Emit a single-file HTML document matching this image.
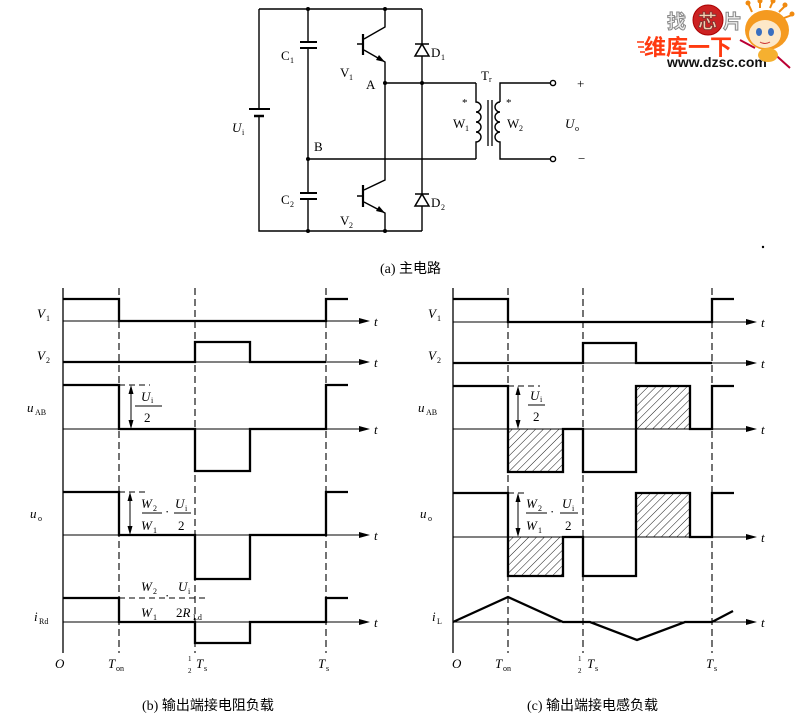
<!DOCTYPE html>
<html><head><meta charset="utf-8"><style>
html,body{margin:0;padding:0;background:#fff;}
svg{display:block;}
.s{font-family:"Liberation Serif","Noto Serif CJK SC",serif;fill:#000;}
.i{font-style:italic;}
.c{font-family:"Liberation Serif","Noto Sans CJK SC",sans-serif;fill:#000;font-size:14px;}
</style></head><body>
<svg width="800" height="717" viewBox="0 0 800 717" xmlns="http://www.w3.org/2000/svg">
<defs>
<pattern id="h" width="5.5" height="5.5" patternUnits="userSpaceOnUse" patternTransform="rotate(45)">
<line x1="0" y1="0" x2="0" y2="5.5" stroke="#000" stroke-width="0.9"/></pattern>
</defs>
<rect width="800" height="717" fill="#fff"/>

<!-- ============ CIRCUIT ============ -->
<g stroke="#000" stroke-width="1.4" fill="none">
<path d="M259,9 H422 M259,9 V109 M259,116 V231 H422"/>
<path d="M249,109 H270" stroke-width="2"/>
<path d="M254,116 H264" stroke-width="2.5"/>
<path d="M308,9 V42 M308,48 V193 M308,199 V231"/>
<path d="M300,42 H317 M300,48 H317 M300,193 H317 M300,199 H317" stroke-width="2"/>
<path d="M308,159 H476 M385,83 H476"/>
<path d="M385,9 V27 L364,39 M357,44 H363 M364,50 L385,62 V180 L364,190 M357,196 H363 M364,202 L385,213 V231"/>
<path d="M363,34 V55 M363,185 V207" stroke-width="2.2"/>
<path d="M422,9 V231"/>
<path d="M415,44 H429 M415,194 H429" stroke-width="1.6"/>
<path d="M422,44 L415,56 H429 Z M422,194 L415,206 H429 Z" fill="#fff" stroke-width="1.5"/>
<path d="M476,83 V102 a5,5 0 0 1 0,10 a5,5 0 0 1 0,10 a5,5 0 0 1 0,10 a5,5 0 0 1 0,10 V159"/>
<path d="M500,102 a5,5 0 0 0 0,10 a5,5 0 0 0 0,10 a5,5 0 0 0 0,10 a5,5 0 0 0 0,10 V159 H550 M500,102 V83 H550"/>
<path d="M488,100 V146 M492,100 V146" stroke-width="1.3"/>
<circle cx="553" cy="83" r="2.6" fill="#fff"/>
<circle cx="553" cy="159" r="2.6" fill="#fff"/>
</g>
<path d="M385,62 L376,60 L379,55 Z M385,213 L376,211 L379,206 Z" fill="#000"/>
<g fill="#000">
<circle cx="308" cy="9" r="2"/><circle cx="385" cy="9" r="2"/>
<circle cx="308" cy="159" r="2"/><circle cx="308" cy="231" r="2"/>
<circle cx="385" cy="83" r="2"/><circle cx="422" cy="83" r="2"/>
<circle cx="385" cy="231" r="2"/>
</g>
<g class="s" font-size="13">
<text x="232" y="132" class="i">U</text><text x="242" y="135" font-size="8">i</text>
<text x="281" y="60">C</text><text x="290" y="63" font-size="8">1</text>
<text x="281" y="204">C</text><text x="290" y="207" font-size="8">2</text>
<text x="314" y="151">B</text>
<text x="340" y="77">V</text><text x="349" y="80" font-size="8">1</text>
<text x="340" y="225">V</text><text x="349" y="228" font-size="8">2</text>
<text x="366" y="89">A</text>
<text x="431" y="57">D</text><text x="441" y="60" font-size="8">1</text>
<text x="431" y="207">D</text><text x="441" y="210" font-size="8">2</text>
<text x="481" y="80">T</text><text x="489" y="82" font-size="8">r</text>
<text x="462" y="106" font-size="11">*</text><text x="506" y="106" font-size="11">*</text>
<text x="453" y="128">W</text><text x="465" y="131" font-size="8">1</text>
<text x="507" y="128">W</text><text x="519" y="131" font-size="8">2</text>
<text x="565" y="128" class="i">U</text><text x="575" y="131" font-size="8">o</text>
<text x="577" y="88">+</text><text x="578" y="163">−</text>
</g>
<text x="380" y="273" class="c">(a) 主电路</text>
<circle cx="763" cy="247" r="1.2" fill="#000"/>

<!-- ============ WATERMARK ============ -->
<g>
<text x="667" y="28" font-family="'Noto Sans CJK SC',sans-serif" font-weight="bold" font-size="19" fill="#eee" stroke="#888" stroke-width="1">找</text>
<circle cx="708" cy="20" r="15" fill="#c22" stroke="#a00"/>
<text x="698" y="28" font-family="'Noto Sans CJK SC',sans-serif" font-weight="bold" font-size="19" fill="#f5d0b0" stroke="#733" stroke-width="0.8">芯</text>
<text x="723" y="28" font-family="'Noto Sans CJK SC',sans-serif" font-weight="bold" font-size="19" fill="#eee" stroke="#888" stroke-width="1">片</text>
<text x="644" y="55" font-family="'Noto Sans CJK SC',sans-serif" font-weight="bold" font-size="22" fill="#ff3a10">维库一下</text>
<path d="M637,42 H644 M638,47 H644 M640,52 H645" stroke="#ff3a10" stroke-width="1.5"/>
<text x="667" y="67" font-family="'Liberation Sans',sans-serif" font-weight="bold" font-size="14" fill="#111">www.dzsc.com</text>
<g>
<path d="M752,12 L748,3 M760,8 L760,0 M770,8 L773,1 M779,12 L785,6 M784,18 L792,15" stroke="#f08a10" stroke-width="2"/>
<circle cx="748" cy="3" r="2.5" fill="#f08a10"/><circle cx="760" cy="1" r="2.5" fill="#f08a10"/><circle cx="773" cy="1" r="2.5" fill="#f08a10"/><circle cx="785" cy="5" r="2.5" fill="#f08a10"/><circle cx="792" cy="14" r="2.5" fill="#f08a10"/>
<ellipse cx="767" cy="30" rx="22" ry="20" fill="#f59a20"/>
<ellipse cx="765" cy="34" rx="16" ry="14" fill="#fde8c8"/>
<ellipse cx="759" cy="32" rx="3" ry="4" fill="#3a6fc0"/>
<ellipse cx="771" cy="32" rx="3" ry="4" fill="#3a6fc0"/>
<path d="M760,42 Q765,45 770,42" stroke="#c33" fill="none"/>
<path d="M770,50 L790,68 M755,48 L740,40" stroke="#b03" stroke-width="2"/>
<ellipse cx="768" cy="55" rx="10" ry="7" fill="#f5b030"/>
</g>
</g>

<!-- ============ PANEL B (left) ============ -->
<g stroke="#000" fill="none">
<path d="M63,288 V653" stroke-width="1.3"/>
<path d="M119,288 V653 M195,288 V653 M326,288 V653" stroke-width="1.1" stroke-dasharray="7,4"/>
<path d="M63,321 H362 M63,362 H362 M63,429 H362 M63,535 H362 M63,622 H362" stroke-width="1.1"/>
<g stroke-width="2.3">
<path d="M63,299 H119 V321 H326 V299 H348"/>
<path d="M63,362 H195 V342 H250 V362 H326"/>
<path d="M63,385 H119 V429 H195 V471 H250 V429 H326 V385 H348"/>
<path d="M63,492 H119 V535 H195 V579 H250 V535 H326 V492 H348"/>
<path d="M63,598 H119 V622 H195 V643 H250 V622 H326 V598 H348"/>
</g>
<path d="M119,385 H150 M119,492 H146 M119,598 H205" stroke-width="1" stroke-dasharray="6,4"/>
<path d="M131,389 V425 M130,496 V531" stroke-width="1"/>
<path d="M135,406 H162 M142,513 H162 M174,513 H191" stroke-width="1"/>
</g>
<g fill="#000">
<path d="M370,321 L359,318 L359,324 Z M370,362 L359,359 L359,365 Z M370,429 L359,426 L359,432 Z M370,535 L359,532 L359,538 Z M370,622 L359,619 L359,625 Z"/>
<path d="M131,385 L128.5,394 L133.5,394 Z M131,429 L128.5,420 L133.5,420 Z M130,492 L127.5,501 L132.5,501 Z M130,535 L127.5,526 L132.5,526 Z"/>
</g>
<g class="s" font-size="13">
<text x="37" y="318" class="i">V</text><text x="46" y="321" font-size="8">1</text>
<text x="37" y="360" class="i">V</text><text x="46" y="363" font-size="8">2</text>
<text x="27" y="412" class="i">u</text><text x="35" y="415" font-size="8">AB</text>
<text x="30" y="518" class="i">u</text><text x="38" y="521" font-size="8">o</text>
<text x="34" y="621" class="i">i</text><text x="39" y="624" font-size="8">Rd</text>
<text x="374" y="326" class="i">t</text><text x="374" y="367" class="i">t</text>
<text x="374" y="434" class="i">t</text><text x="374" y="540" class="i">t</text>
<text x="374" y="627" class="i">t</text>
<text x="141" y="401" class="i">U</text><text x="151" y="403" font-size="8">i</text>
<text x="144" y="422">2</text>
<text x="141" y="508" class="i">W</text><text x="153" y="511" font-size="8">2</text>
<text x="141" y="530" class="i">W</text><text x="153" y="533" font-size="8">1</text>
<text x="165" y="516">·</text>
<text x="175" y="508" class="i">U</text><text x="185" y="511" font-size="8">i</text>
<text x="178" y="530">2</text>
<text x="141" y="591" class="i">W</text><text x="153" y="594" font-size="8">2</text>
<text x="141" y="617" class="i">W</text><text x="153" y="620" font-size="8">1</text>
<text x="165" y="600">·</text>
<text x="178" y="591" class="i">U</text><text x="188" y="594" font-size="8">i</text>
<text x="176" y="617">2<tspan class="i">R</tspan></text><text x="193" y="620" font-size="8">Ld</text>
<text x="55" y="668" class="i">O</text>
<text x="108" y="668" class="i">T</text><text x="116" y="671" font-size="8">on</text>
<text x="188" y="661" font-size="7">1</text><text x="188" y="673" font-size="7">2</text>
<text x="196" y="668" class="i">T</text><text x="204" y="671" font-size="8">s</text>
<text x="318" y="668" class="i">T</text><text x="326" y="671" font-size="8">s</text>
</g>
<text x="142" y="710" class="c">(b) 输出端接电阻负载</text>

<!-- ============ PANEL C (right) ============ -->
<rect x="508" y="429" width="55" height="43" fill="url(#h)"/>
<rect x="636" y="386" width="54" height="43" fill="url(#h)"/>
<rect x="508" y="537" width="55" height="39" fill="url(#h)"/>
<rect x="636" y="493" width="54" height="44" fill="url(#h)"/>
<g stroke="#000" fill="none">
<path d="M453,288 V653" stroke-width="1.3"/>
<path d="M508,288 V653 M583,288 V653 M712,288 V653" stroke-width="1.1" stroke-dasharray="7,4"/>
<path d="M453,322 H750 M453,363 H750 M453,429 H750 M453,537 H750 M453,622 H750" stroke-width="1.1"/>
<g stroke-width="2.3">
<path d="M453,299 H508 V322 H712 V299 H734"/>
<path d="M453,363 H583 V343 H636 V363 H712"/>
<path d="M453,386 H508 V472 H563 V429 H583 V472 H636 V386 H690 V429 H712 V386 H734"/>
<path d="M453,493 H508 V576 H563 V537 H583 V576 H636 V493 H690 V537 H712 V493 H734"/>
<path d="M453,622 L508,597 L563,622 H590 L637,640 L685,622 H712 L733,611"/>
</g>
<path d="M508,386 H540 M508,493 H526" stroke-width="1" stroke-dasharray="6,4"/>
<path d="M518,390 V425 M518,497 V533" stroke-width="1"/>
<path d="M528,405 H545 M526,513 H547 M560,513 H578" stroke-width="1"/>
</g>
<g fill="#000">
<path d="M757,322 L746,319 L746,325 Z M757,363 L746,360 L746,366 Z M757,429 L746,426 L746,432 Z M757,537 L746,534 L746,540 Z M757,622 L746,619 L746,625 Z"/>
<path d="M518,386 L515.5,395 L520.5,395 Z M518,429 L515.5,420 L520.5,420 Z M518,493 L515.5,502 L520.5,502 Z M518,537 L515.5,528 L520.5,528 Z"/>
</g>
<g class="s" font-size="13">
<text x="428" y="318" class="i">V</text><text x="437" y="321" font-size="8">1</text>
<text x="428" y="360" class="i">V</text><text x="437" y="363" font-size="8">2</text>
<text x="418" y="412" class="i">u</text><text x="426" y="415" font-size="8">AB</text>
<text x="420" y="518" class="i">u</text><text x="428" y="521" font-size="8">o</text>
<text x="432" y="621" class="i">i</text><text x="437" y="624" font-size="8">L</text>
<text x="761" y="327" class="i">t</text><text x="761" y="368" class="i">t</text>
<text x="761" y="434" class="i">t</text><text x="761" y="542" class="i">t</text>
<text x="761" y="627" class="i">t</text>
<text x="530" y="400" class="i">U</text><text x="540" y="402" font-size="8">i</text>
<text x="533" y="421">2</text>
<text x="526" y="508" class="i">W</text><text x="538" y="511" font-size="8">2</text>
<text x="526" y="530" class="i">W</text><text x="538" y="533" font-size="8">1</text>
<text x="550" y="516">·</text>
<text x="562" y="508" class="i">U</text><text x="572" y="511" font-size="8">i</text>
<text x="565" y="530">2</text>
<text x="452" y="668" class="i">O</text>
<text x="495" y="668" class="i">T</text><text x="503" y="671" font-size="8">on</text>
<text x="578" y="661" font-size="7">1</text><text x="578" y="673" font-size="7">2</text>
<text x="587" y="668" class="i">T</text><text x="595" y="671" font-size="8">s</text>
<text x="706" y="668" class="i">T</text><text x="714" y="671" font-size="8">s</text>
</g>
<text x="527" y="710" class="c">(c) 输出端接电感负载</text>
</svg>
</body></html>
